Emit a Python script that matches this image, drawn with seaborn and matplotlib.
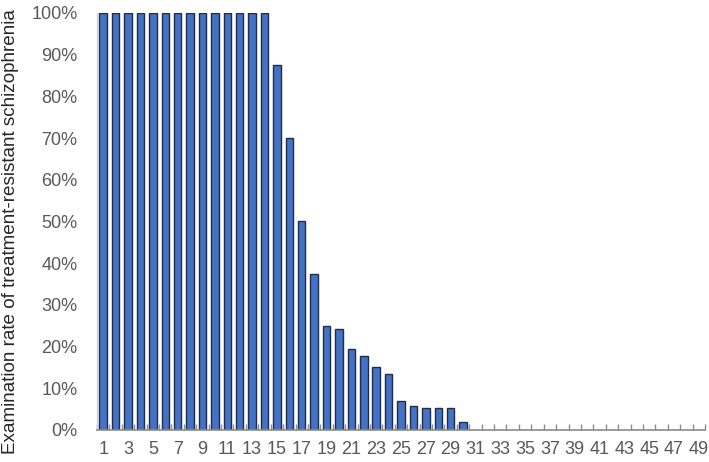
import matplotlib
matplotlib.use("Agg")
import matplotlib.pyplot as plt
import seaborn as sns
import pandas as pd
from matplotlib.ticker import FixedLocator, PercentFormatter

categories = [str(i) for i in range(1, 50)]
rates = ([1.0] * 14 +
         [0.875, 0.70, 0.50, 0.375, 0.25, 0.243, 0.195, 0.177, 0.150, 0.134,
          0.070, 0.057, 0.053, 0.053, 0.053, 0.018] +
         [0.0] * 19)
tick_labels = [str(i) for i in range(1, 50, 2)]
ylabel = "Examination rate of treatment-resistant schizophrenia"

sns.set_theme(style="white")
plt.rcParams['font.family'] = ['Liberation Sans', 'DejaVu Sans']

df = pd.DataFrame({"day": categories, "rate": rates})

fig = plt.figure(figsize=(7.09, 4.62), dpi=100)
ax = fig.add_axes([0.1368, 0.0693, 0.9944 - 0.1368, 0.9719 - 0.0693])

sns.barplot(data=df, x="day", y="rate", order=categories, color="#4472C4",
            saturation=1, width=0.6, edgecolor="#1F2D4A", linewidth=1.0, ax=ax)

ax.set_xlim(-0.5, len(categories) - 0.5)
ax.set_ylim(0, 1.0)
ax.yaxis.set_major_locator(FixedLocator([i / 10 for i in range(11)]))
ax.yaxis.set_major_formatter(PercentFormatter(1.0, decimals=0))

ax.set_xticks(range(0, len(categories), 2))
ax.set_xticklabels(tick_labels)
ax.xaxis.set_minor_locator(FixedLocator([i - 0.5 for i in range(len(categories) + 1)]))
ax.tick_params(axis="x", which="major", length=0, pad=8, labelsize=13, labelcolor="#595959")
ax.tick_params(axis="x", which="minor", direction="in", length=4, width=1, color="#8C8C8C", bottom=True)
ax.tick_params(axis="y", length=0, pad=14, labelsize=13, labelcolor="#595959")

ax.set_xlabel("")
ax.set_ylabel(ylabel, fontsize=13.6, color="#262626")
ax.yaxis.set_label_coords(-0.128, 0.475)

for s in ["top", "right"]:
    ax.spines[s].set_visible(False)
ax.spines["bottom"].set_color("#8C8C8C")
ax.spines["bottom"].set_linewidth(1.2)
ax.spines["left"].set_color("#D0D0D0")
ax.spines["left"].set_linewidth(1.0)

fig.savefig("out.png", dpi=100)
